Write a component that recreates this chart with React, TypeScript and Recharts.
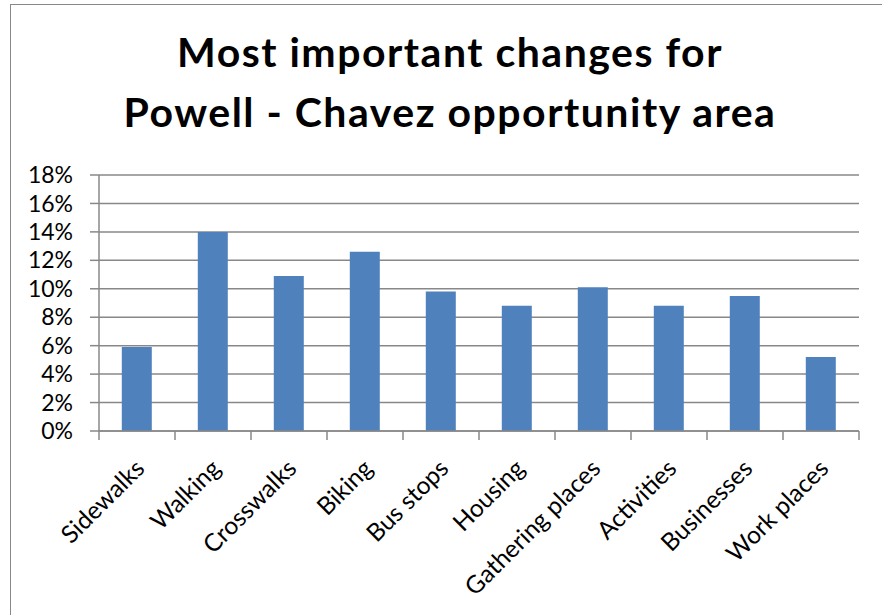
import React from "react";
import { Bar, BarChart, CartesianGrid, XAxis, YAxis } from "recharts";

const categories = [
  "Sidewalks",
  "Walking",
  "Crosswalks",
  "Biking",
  "Bus stops",
  "Housing",
  "Gathering places",
  "Activities",
  "Businesses",
  "Work places",
];
const shares = [5.9, 14.0, 10.9, 12.6, 9.8, 8.8, 10.1, 8.8, 9.5, 5.2];
const yTicks = [0, 2, 4, 6, 8, 10, 12, 14, 16, 18];
const titleLines = ["Most important changes for", "Powell - Chavez opportunity area"];

const data = categories.map((name, i) => ({ name, value: shares[i] }));

const W = 882;
const H = 615;
const PLOT_LEFT = 99;
const PLOT_RIGHT = 23;
const BAND = (W - PLOT_LEFT - PLOT_RIGHT) / categories.length;
const GRID = "#888888";
const FONT = "Lato, 'Open Sans', sans-serif";

function CategoryTick(props: any) {
  const { x, y, payload, index } = props;
  const last = index === categories.length - 1;
  const px = x + 9;
  const py = y + 39;
  return (
    <g>
      <line x1={x - BAND / 2} y1={y} x2={x - BAND / 2} y2={y + 9} stroke={GRID} strokeWidth={1.5} />
      {last && (
        <line x1={x + BAND / 2} y1={y} x2={x + BAND / 2} y2={y + 9} stroke={GRID} strokeWidth={1.5} />
      )}
      <text
        x={px}
        y={py}
        textAnchor="end"
        transform={`rotate(-45, ${px}, ${py})`}
        fontSize={24.5}
        fontFamily={FONT}
        fill="#000"
      >
        {payload.value}
      </text>
    </g>
  );
}

export default function App() {
  return (
    <div
      style={{
        position: "absolute",
        left: 0,
        top: 0,
        width: W,
        height: H,
        background: "#fff",
        overflow: "hidden",
      }}
    >
      <div
        style={{
          position: "absolute",
          left: 10,
          top: 4,
          right: -2,
          bottom: -2,
          borderTop: "1.5px solid #888",
          borderLeft: "1.5px solid #888",
        }}
      />
      <div
        style={{
          position: "absolute",
          left: 0,
          top: 22,
          width: 900,
          textAlign: "center",
          fontFamily: FONT,
          fontWeight: 700,
          fontSize: 41,
          letterSpacing: 1.5,
          lineHeight: "60px",
          color: "#000",
        }}
      >
        {titleLines.map((t) => (
          <div key={t}>{t}</div>
        ))}
      </div>
      <div style={{ position: "absolute", left: 0, top: 0 }}>
        <BarChart
          width={W}
          height={H}
          data={data}
          margin={{ top: 175, right: PLOT_RIGHT, left: 0, bottom: 0 }}
          barCategoryGap="30%"
        >
          <CartesianGrid vertical={false} stroke={GRID} strokeWidth={1.5} />
          <XAxis
            dataKey="name"
            interval={0}
            height={184}
            tickSize={0}
            tickMargin={0}
            tickLine={false}
            axisLine={{ stroke: GRID, strokeWidth: 1.5 }}
            tick={<CategoryTick />}
          />
          <YAxis
            width={PLOT_LEFT}
            domain={[0, 18]}
            ticks={yTicks}
            interval={0}
            tickFormatter={(v) => `${v}%`}
            tickSize={9}
            tickMargin={17}
            tickLine={{ stroke: GRID, strokeWidth: 1.5 }}
            axisLine={{ stroke: GRID, strokeWidth: 1.5 }}
            tick={{ fontSize: 23, fontFamily: FONT, fill: "#000" }}
          />
          <Bar dataKey="value" fill="#4F81BD" isAnimationActive={false} />
        </BarChart>
      </div>
    </div>
  );
}
